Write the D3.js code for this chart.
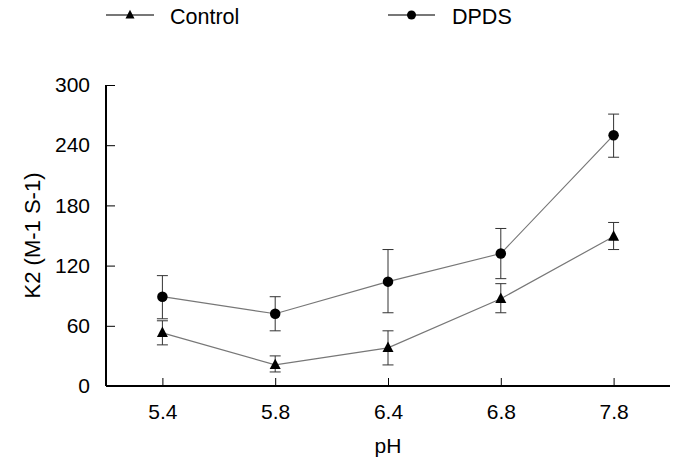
<!DOCTYPE html>
<html>
<head>
<meta charset="utf-8">
<script src="https://cdn.jsdelivr.net/npm/d3@7/dist/d3.min.js"></script>
<style>
  html, body { margin: 0; padding: 0; background: #fff; }
  svg { display: block; font-family: "Liberation Sans", Arial, sans-serif; }
</style>
</head>
<body>
<svg id="chart" width="676" height="463"></svg>
<script>
const categories = ["5.4", "5.8", "6.4", "6.8", "7.8"];
const seriesNames = ["Control", "DPDS"];
const controlValues = [53, 21, 38, 87, 149];
const controlErrLow = [41, 14, 21, 73, 136];
const controlErrHigh = [65, 30, 55, 102, 163];
const dpdsValues = [89, 72, 104, 132, 250];
const dpdsErrLow = [67, 55, 73, 107, 228];
const dpdsErrHigh = [110, 89, 136, 157, 271];
const yTicks = [0, 60, 120, 180, 240, 300];
const xTitle = "pH";
const yTitle = "K2 (M-1 S-1)";

const series = [
  { name: seriesNames[0], values: controlValues, lo: controlErrLow, hi: controlErrHigh, marker: "triangle" },
  { name: seriesNames[1], values: dpdsValues, lo: dpdsErrLow, hi: dpdsErrHigh, marker: "circle" }
];

const svg = d3.select("#chart");
const x = d3.scalePoint().domain(categories).range([106, 670]).padding(0.5);
const y = d3.scaleLinear().domain([0, 300]).range([386, 85]);

const fontSize = 21;
const lineColor = "#777";
const errColor = "#333";

// Axes
const xAxis = svg.append("g").attr("transform", `translate(0,${y(0)})`)
  .call(d3.axisBottom(x).tickSizeInner(-8).tickSizeOuter(0).tickPadding(18));
const yAxis = svg.append("g").attr("transform", `translate(${x.range()[0]},0)`)
  .call(d3.axisLeft(y).tickValues(yTicks).tickSizeInner(-9).tickSizeOuter(0).tickPadding(16));
[xAxis, yAxis].forEach(g => {
  g.select(".domain").attr("stroke", "#000").attr("stroke-width", 2);
  g.selectAll(".tick line").attr("stroke", "#000").attr("stroke-width", 1);
  g.selectAll(".tick text").attr("fill", "#000").style("font-size", fontSize + "px")
    .style("font-family", '"Liberation Sans", Arial, sans-serif');
});
// extend x-axis domain to meet y axis
xAxis.select(".domain").attr("d", `M${x.range()[0]},0H${x.range()[1]}`);
yAxis.select(".domain").attr("d", `M0,${y(0)}V${y(300)}`);

// Titles
svg.append("text").attr("x", (x.range()[0] + x.range()[1]) / 2).attr("y", 453)
  .attr("text-anchor", "middle").style("font-size", fontSize + "px").text(xTitle);
svg.append("text").attr("transform", `translate(40,${(y(0) + y(300)) / 2}) rotate(-90)`)
  .attr("text-anchor", "middle").style("font-size", "22px").text(yTitle);

const triPath = (cx, cy, s) => {
  const h = s * 0.95;
  return `M${cx},${cy - h * 0.6}L${cx + s / 2},${cy + h * 0.4}L${cx - s / 2},${cy + h * 0.4}Z`;
};
const drawMarker = (g, type, cx, cy, size) => {
  if (type === "circle") g.append("circle").attr("cx", cx).attr("cy", cy).attr("r", size / 2).attr("fill", "#000");
  else g.append("path").attr("d", triPath(cx, cy, size)).attr("fill", "#000");
};

const line = d3.line().x(d => x(d.c)).y(d => y(d.v));

series.forEach(s => {
  const pts = categories.map((c, i) => ({ c, v: s.values[i], lo: s.lo[i], hi: s.hi[i] }));
  const g = svg.append("g");
  // error bars
  pts.forEach(p => {
    const cx = x(p.c);
    g.append("line").attr("x1", cx).attr("x2", cx).attr("y1", y(p.lo)).attr("y2", y(p.hi))
      .attr("stroke", errColor).attr("stroke-width", 1);
    [p.lo, p.hi].forEach(v => g.append("line").attr("x1", cx - 5.5).attr("x2", cx + 5.5)
      .attr("y1", y(v)).attr("y2", y(v)).attr("stroke", errColor).attr("stroke-width", 1));
  });
  g.append("path").datum(pts).attr("d", line).attr("fill", "none")
    .attr("stroke", lineColor).attr("stroke-width", 1.2);
  pts.forEach(p => drawMarker(g, s.marker, x(p.c), y(p.v), s.marker === "circle" ? 10.5 : 11));
});

// Legend
const legendPos = [{ x1: 106, x2: 154, tx: 170 }, { x1: 388, x2: 435, tx: 452 }];
series.forEach((s, i) => {
  const L = legendPos[i];
  const g = svg.append("g");
  g.append("line").attr("x1", L.x1).attr("x2", L.x2).attr("y1", 15).attr("y2", 15)
    .attr("stroke", lineColor).attr("stroke-width", 2);
  drawMarker(g, s.marker, (L.x1 + L.x2) / 2, 15, s.marker === "circle" ? 9 : 9);
  g.append("text").attr("x", L.tx).attr("y", 23.5).style("font-size", "21.5px").text(s.name);
});
</script>
</body>
</html>
